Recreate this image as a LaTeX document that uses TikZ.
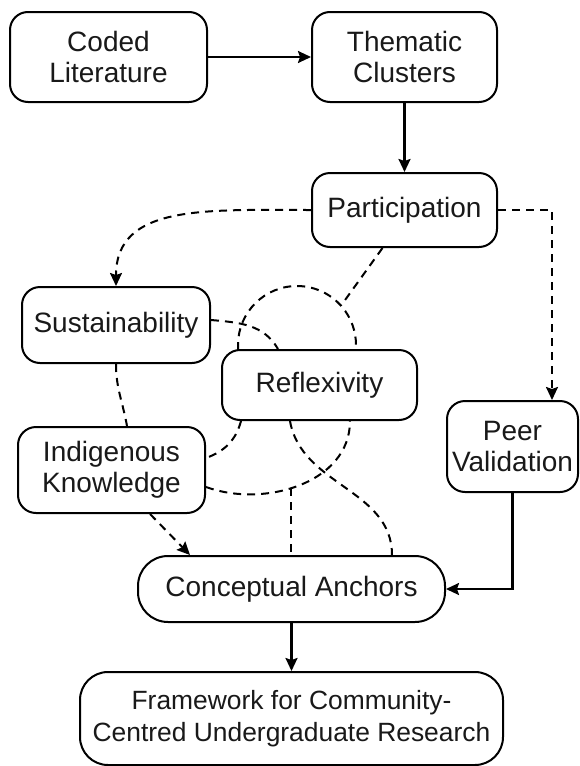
\documentclass[tikz,border=0pt]{standalone}
\usepackage{fontspec}
\setmainfont{Liberation Sans}
\usepackage{tikz}
\usetikzlibrary{shapes,calc,positioning,arrows.meta}

\begin{document}
\begin{tikzpicture}[x=0.5pt,y=0.5pt,
  >={Stealth[length=6.5pt,width=6pt,inset=1pt]},
  every node/.append style={font=\fontsize{14}{15.5}\selectfont,align=center,text=black!90},
  link/.style={line width=1.1pt,->},
  dashlink/.style={line width=1pt,dash pattern=on 4pt off 3pt}]
  \tikzstyle{box} = [draw,line width=1pt,rounded corners=9pt,fill=white,inner sep=0pt]
  \useasboundingbox (0,0) rectangle (579,-766);
  \node (coded) [box,minimum width=98.5pt,minimum height=45pt] at (108.5,-57) {Coded\\Literature};
  \node (clusters) [box,minimum width=92.5pt,minimum height=45pt] at (404.5,-57) {Thematic\\Clusters};
  \node (partic) [box,minimum width=92.5pt,minimum height=37pt] at (404.5,-210) {Participation};
  \node (sustain) [box,minimum width=94pt,minimum height=38pt] at (116,-325) {Sustainability};
  \node (reflex) [box,minimum width=97.5pt,minimum height=35pt] at (319.5,-385) {Reflexivity};
  \node (indig) [box,minimum width=93.5pt,minimum height=43pt] at (111.5,-470) {Indigenous\\Knowledge};
  \node (peer) [box,minimum width=65.5pt,minimum height=45.5pt] at (512.5,-446.5) {Peer\\Validation};
  \node (anchors) [box,rounded corners=15pt,minimum width=153.5pt,minimum height=33pt] at (291.5,-589) {Conceptual Anchors};
  \node (frame) [box,rounded corners=14pt,minimum width=211.5pt,minimum height=46.5pt,
    font=\fontsize{13.2}{16}\selectfont] at (291.5,-718.5) {Framework for Community-\\Centred Undergraduate Research};
  \coordinate (loop) at (297,-345);
  % main flow
  \draw[link] (coded) -- (clusters);
  \draw[link] (clusters) -- (partic);
  \draw[link] (peer.south) |- (anchors.east);
  \draw[link] (anchors) -- (frame);
  % dashed links round reflexivity
  \draw[dashlink,->] (partic.west) to[out=180,in=90,out looseness=1.3] (sustain.north);
  \draw[dashlink,->] (partic.east) -| ([xshift=19.75pt]peer.north);
  \draw[dashlink] (loop) ++(185:29.5pt) arc[start angle=185,end angle=-5,radius=29.5pt];
  \draw[dashlink] ([xshift=-11pt]partic.south) -- ($(loop)+(42:30pt)$);
  \draw[dashlink] ([yshift=2.5pt]sustain.east) to[out=-5,in=120] ([xshift=-20.75pt]reflex.north);
  \draw[dashlink] (sustain.south) to[out=-90,in=100] ([xshift=7.75pt]indig.north);
  \draw[dashlink] ([xshift=10pt]reflex.south west) to[out=-105,in=20] ([yshift=6pt]indig.east);
  \draw[dashlink] ([yshift=-8.5pt]indig.east) to[out=-20,in=-90] coordinate[pos=0.45] (lowarc) ([xshift=15.25pt]reflex.south);
  \draw[dashlink] (lowarc) -- (lowarc |- anchors.north);
  \draw[dashlink] ([xshift=-14.75pt]reflex.south) to[out=-80,in=90] ([xshift=50.25pt]anchors.north);
  \draw[dashlink,->] ([xshift=19.25pt]indig.south) -- ([xshift=-50.75pt]anchors.north);
\end{tikzpicture}
\end{document}
